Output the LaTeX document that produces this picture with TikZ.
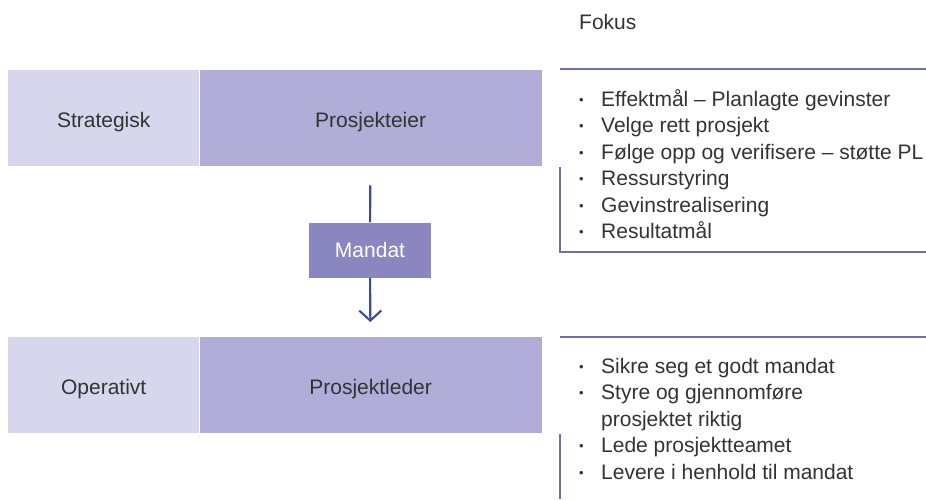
\documentclass[tikz,border=0pt]{standalone}
\usepackage{fontspec}
\setmainfont{Liberation Sans}
\usetikzlibrary{positioning,arrows.meta}

\definecolor{lavlight}{HTML}{D8D6EC}
\definecolor{lavdark}{HTML}{B0ADD8}
\definecolor{mandatfill}{HTML}{8A87C0}
\definecolor{arrowblue}{HTML}{3D4A9C}
\definecolor{rulecol}{HTML}{6B70B2}
\definecolor{txt}{HTML}{333333}

\tikzset{
  level/.style={fill=lavlight, minimum width=191pt, minimum height=96pt, inner sep=0pt,
    text height=19.5pt, text depth=0pt, text=txt},
  role/.style={fill=lavdark, minimum width=342pt, minimum height=96pt, inner sep=0pt,
    text height=19.5pt, text depth=0pt, text=txt},
  bracket/.style={draw=rulecol, line width=1.4pt},
  conn/.style={draw=arrowblue, line width=2.1pt},
  focuslist/.style={align=left, text=txt, inner sep=0pt, anchor=north west,
    font=\fontsize{21}{26.5}\selectfont},
}
\newcommand{\bul}{\makebox[23pt][l]{\hspace{1pt}\raisebox{0.1em}{\fontsize{13}{13}\selectfont\textbullet}}}

\begin{document}
\begin{tikzpicture}[x=1pt,y=-1pt,font=\fontsize{21}{25}\selectfont]
  \useasboundingbox (0,0) rectangle (926,499);

  \node (strat) [level, anchor=north west] at (8,70) {Strategisk};
  \node (eier) [role, right=0pt of strat] {Prosjekteier};
  \node (oper) [level, anchor=north west] at (8,337) {Operativt};
  \node (leder) [role, right=0pt of oper] {Prosjektleder};
  \node (mandat) [fill=mandatfill, text=white, minimum width=122pt, minimum height=55pt, inner sep=0pt] at (370,250) {Mandat};

  \draw[conn, shorten <=19pt] (eier) -- (mandat);
  \draw[conn, -{Straight Barb[length=10pt,width=22pt,line width=2.1pt]}, shorten >=15pt] (mandat) -- (leder);

  \node (fokus) [anchor=west, inner sep=0pt, text=txt] at (579,22) {Fokus};

  % brackets
  \draw[bracket] (560,69) -- (926,69);
  \draw[bracket] (560,167) -- (560,252) -- (926,252);
  \draw[bracket] (560,337) -- (926,337);
  \draw[bracket] (560,434) -- (560,499);

  \node (eierfokus) [focuslist] at (578,89) {%
    \bul Effektmål – Planlagte gevinster\\
    \bul Velge rett prosjekt\\
    \bul Følge opp og verifisere – støtte PL\\
    \bul Ressurstyring\\
    \bul Gevinstrealisering\\
    \bul Resultatmål};
  \node (lederfokus) [focuslist] at (578,358) {%
    \bul Sikre seg et godt mandat\\
    \bul Styre og gjennomføre\\
    \hspace*{23pt}prosjektet riktig\\
    \bul Lede prosjektteamet\\
    \bul Levere i henhold til mandat};
\end{tikzpicture}
\end{document}
